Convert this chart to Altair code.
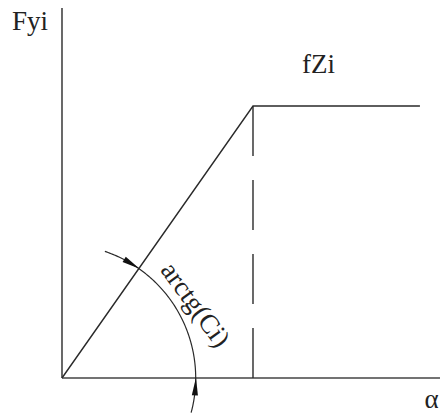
import numpy as np
import pandas as pd
import altair as alt

# Characteristic: linear rise with slope Ci up to the limit fZi, then flat
alpha_pts = [0.0, 1.0, 1.874]
fy_pts = [0.0, 1.424, 1.424]
knee_alpha = 1.0
knee_fy = 1.424

# Axis extents
axis_alpha_max = 1.979
axis_fy_max = 1.937

# Angle marker arc (radius and angular span in degrees)
arc_radius = 0.70
arc_start_deg = 71.3
arc_end_deg = -15.0
arrow_deg = [58.5, -3.6]

# Labels
label_text = ["Fyi", "fZi", "α", "arctg(Ci)"]
label_x = [-0.262, 1.257, 1.935, 0.696]
label_y = [1.822, 1.597, -0.157, 0.382]
label_angle = [0, 0, 0, 54]
label_align = ["left", "left", "center", "center"]
label_baseline = ["alphabetic", "alphabetic", "alphabetic", "middle"]

INK = "#2a2a2a"
FONT = "'Liberation Serif', 'Times New Roman', serif"

xs = alt.Scale(domain=[-0.3246, 1.9843], nice=False, zero=False)
ys = alt.Scale(domain=[-0.1885, 1.9791], nice=False, zero=False)


def X(field):
    return alt.X(field, type="quantitative", scale=xs, axis=None)


def Y(field):
    return alt.Y(field, type="quantitative", scale=ys, axis=None)


axes_df = pd.DataFrame({
    "x": [0.0, 0.0], "y": [0.0, 0.0],
    "x2": [0.0, axis_alpha_max], "y2": [axis_fy_max, 0.0],
})
axes = alt.Chart(axes_df).mark_rule(color="#444", strokeWidth=1.6).encode(
    x=X("x"), y=Y("y"), x2="x2", y2="y2"
)

curve_df = pd.DataFrame({"a": alpha_pts, "f": fy_pts, "i": range(len(alpha_pts))})
curve = alt.Chart(curve_df).mark_line(color=INK, strokeWidth=1.4).encode(
    x=X("a"), y=Y("f"), order="i"
)

dash_df = pd.DataFrame({"x": [knee_alpha], "y": [knee_fy], "y2": [0.0]})
dashed = alt.Chart(dash_df).mark_rule(
    color=INK, strokeWidth=1.4, strokeDash=[50, 24]
).encode(x=X("x"), y=Y("y"), y2="y2")

# Arc of the angle marker
th = np.radians(np.linspace(arc_start_deg, arc_end_deg, 120))
arc_df = pd.DataFrame({
    "x": arc_radius * np.cos(th),
    "y": arc_radius * np.sin(th),
    "i": np.arange(len(th)),
})
arc = alt.Chart(arc_df).mark_line(color=INK, strokeWidth=1.2).encode(
    x=X("x"), y=Y("y"), order="i"
)

# Arrow heads on the arc: first points clockwise, second counter-clockwise
ath = np.radians(arrow_deg)
arrow_df = pd.DataFrame({
    "x": arc_radius * np.cos(ath),
    "y": arc_radius * np.sin(ath),
    "rot": [180.0 - arrow_deg[0], -arrow_deg[1]],
})
arrows = alt.Chart(arrow_df).mark_point(
    shape="M0,-1L0.34,1L-0.34,1Z", filled=True, color="#111", size=324, opacity=1
).encode(x=X("x"), y=Y("y"), angle=alt.Angle("rot:Q", scale=None))

label_layers = []
for t, lx, ly, ang, al, bl in zip(label_text, label_x, label_y, label_angle,
                                  label_align, label_baseline):
    df = pd.DataFrame({"x": [lx], "y": [ly], "t": [t]})
    label_layers.append(
        alt.Chart(df).mark_text(
            font=FONT, fontSize=27, color="#222", align=al, baseline=bl, angle=ang
        ).encode(x=X("x"), y=Y("y"), text="t:N")
    )

chart = alt.layer(axes, curve, dashed, arc, arrows, *label_layers).properties(
    width=441, height=414, padding=0, autosize="none", background="white"
).configure_view(stroke=None)

chart.save("out.html", embed_options={"renderer": "svg", "actions": False})
